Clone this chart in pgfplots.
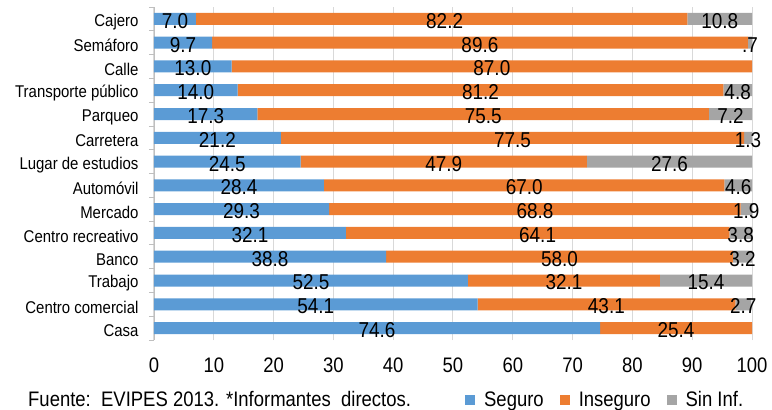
\documentclass[border=0pt]{standalone}
\usepackage{fontspec}
\setmainfont{Liberation Sans}[FakeStretch=0.88]
\usepackage{pgfplots}
\pgfplotsset{compat=1.18}
\definecolor{cSeg}{HTML}{5B9BD5}
\definecolor{cIns}{HTML}{ED7D31}
\definecolor{cSin}{HTML}{A5A5A5}
\definecolor{gridgray}{HTML}{D9D9D9}
\definecolor{axgray}{HTML}{BFBFBF}
\pgfplotsset{base/.style={width=598pt,height=333pt,scale only axis,xmin=0,xmax=100,ymin=-0.5,ymax=13.5}}
\begin{document}
\begin{tikzpicture}
\begin{axis}[base, name=ax,
  xbar stacked, bar width=12pt,
  axis lines*=left,
  x axis line style={draw=none},
  y axis line style={draw=axgray, line width=0.8pt},
  xtick={0,10,...,100},
  xmajorgrids, grid style={draw=gridgray, line width=1pt},
  major tick length=0pt,
  tick align=outside,
  tick style={draw=axgray, line width=0.8pt},
  ytick={0,...,13},
  yticklabels={Casa,Centro comercial,Trabajo,Banco,Centro recreativo,Mercado,Automóvil,Lugar de estudios,Carretera,Parqueo,Transporte público,Calle,Semáforo,Cajero},
  extra y ticks={-0.5,0.5,...,13.5},
  extra y tick labels={},
  extra y tick style={major tick length=5pt},
  yticklabel style={font=\fontsize{17}{17}\selectfont, xshift=-12pt, yshift=-3pt},
  xticklabel style={font=\fontsize{21}{21}\selectfont, yshift=-14pt},
  /pgf/number format/assume math mode=true,
  clip=false,
  legend style={at={(axis description cs:0.52,-0.18)}, anchor=west, draw=none, fill=none,
    font=\fontsize{21}{21}\selectfont, inner sep=0pt,
    /tikz/every even column/.append style={column sep=14pt},
    /tikz/every odd column/.append style={column sep=7pt}},
  legend columns=3,
  legend image code/.code={\fill[#1,draw=none] (0pt,-5pt) rectangle (10pt,5pt);},
]
\addplot[fill=cSeg, draw=none] coordinates {(74.6,0) (54.1,1) (52.5,2) (38.8,3) (32.1,4) (29.3,5) (28.4,6) (24.5,7) (21.2,8) (17.3,9) (14.0,10) (13.0,11) (9.7,12) (7.0,13)};
\addplot[fill=cIns, draw=none] coordinates {(25.4,0) (43.1,1) (32.1,2) (58.0,3) (64.1,4) (68.8,5) (67.0,6) (47.9,7) (77.5,8) (75.5,9) (81.2,10) (87.0,11) (89.6,12) (82.2,13)};
\addplot[fill=cSin, draw=none] coordinates {(0,0) (2.7,1) (15.4,2) (3.2,3) (3.8,4) (1.9,5) (4.6,6) (27.6,7) (1.3,8) (7.2,9) (4.8,10) (0,11) (0.7,12) (10.8,13)};
\legend{Seguro,Inseguro,Sin Inf.}
\node[anchor=base west, font=\fontsize{21}{21}\selectfont, inner sep=0pt] at (axis description cs:-0.2107,-0.201) {Fuente:\ \ EVIPES 2013. *Informantes\ \ directos.};
\end{axis}
\begin{axis}[base, hide axis, at={(ax.south west)}, anchor=south west, clip=false,
  nodes near coords, point meta=explicit symbolic,
  every node near coord/.append style={anchor=center, font=\fontsize{21.5}{21.5}\selectfont, yshift=-2pt, text=black, inner sep=0pt}]
\addplot[draw=none, mark=none] coordinates {
(3.5,13)[7.0] (48.6,13)[82.2] (94.6,13)[10.8]
(4.85,12)[9.7] (54.5,12)[89.6] (99.65,12)[.7]
(6.5,11)[13.0] (56.5,11)[87.0]
(7.0,10)[14.0] (54.6,10)[81.2] (97.6,10)[4.8]
(8.65,9)[17.3] (55.05,9)[75.5] (96.4,9)[7.2]
(10.6,8)[21.2] (59.95,8)[77.5] (99.35,8)[1.3]
(12.25,7)[24.5] (48.45,7)[47.9] (86.2,7)[27.6]
(14.2,6)[28.4] (61.9,6)[67.0] (97.7,6)[4.6]
(14.65,5)[29.3] (63.7,5)[68.8] (99.05,5)[1.9]
(16.05,4)[32.1] (64.15,4)[64.1] (98.1,4)[3.8]
(19.4,3)[38.8] (67.8,3)[58.0] (98.4,3)[3.2]
(26.25,2)[52.5] (68.55,2)[32.1] (92.3,2)[15.4]
(27.05,1)[54.1] (75.65,1)[43.1] (98.55,1)[2.7]
(37.3,0)[74.6] (87.3,0)[25.4]
};
\end{axis}
\pgfresetboundingbox
\path[use as bounding box] ([xshift=-154pt,yshift=-70pt]ax.south west) rectangle ([xshift=20pt,yshift=7pt]ax.north east);
\end{tikzpicture}
\end{document}
